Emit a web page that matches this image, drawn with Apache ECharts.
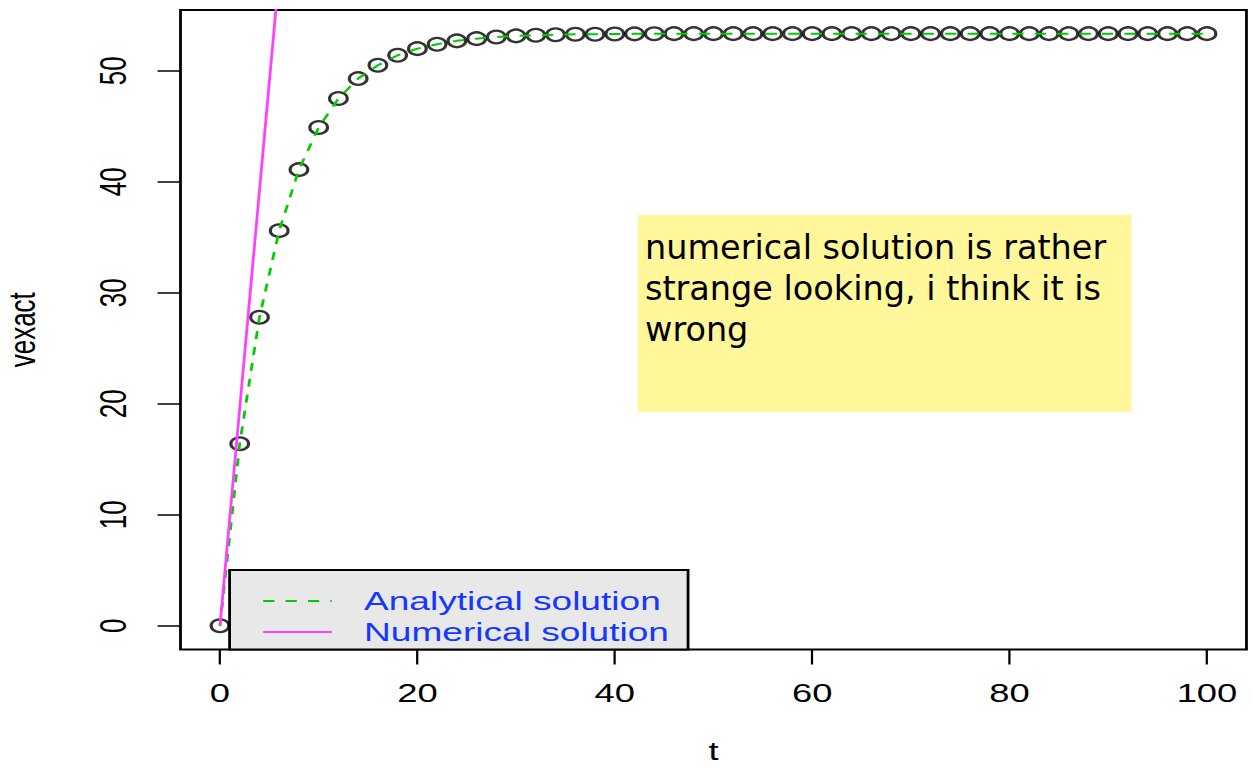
<!DOCTYPE html>
<html><head><meta charset="utf-8">
<script src="https://cdn.jsdelivr.net/npm/echarts@6/dist/echarts.min.js"></script>
<style>
html,body{margin:0;padding:0;background:#fff;overflow:hidden;}
#wrap{width:1253px;height:768px;overflow:hidden;position:relative;background:#fff;}
#chart{width:895px;height:768px;transform:scaleX(1.4);transform-origin:0 0;}
</style></head><body>
<div id="wrap"><div id="chart"></div></div>
<script>
// ---- data ----
const tValues = [0,2,4,6,8,10,12,14,16,18,20,22,24,26,28,30,32,34,36,38,40,42,44,46,48,50,
  52,54,56,58,60,62,64,66,68,70,72,74,76,78,80,82,84,86,88,90,92,94,96,98,100];
const vExact = [0,16.4,27.8,35.6,41.1,44.9,47.5,49.3,50.5,51.4,52.0,52.4,52.7,52.9,53.05,53.15,
  53.2,53.25,53.3,53.3,53.32,53.33,53.34,53.35,53.35,53.35,53.35,53.35,53.35,53.35,53.35,53.35,
  53.35,53.35,53.35,53.35,53.35,53.35,53.35,53.35,53.35,53.35,53.35,53.35,53.35,53.35,53.35,
  53.35,53.35,53.35,53.35];
const tNumeric = [0,2,4,6,8,10];
const vNumeric = [0,19.6,39.2,58.8,78.4,98.0];
const xTickLabels = [0,20,40,60,80,100];
const yTickLabels = [0,10,20,30,40,50];
const legendNames = ['Analytical solution','Numerical solution'];
const xName = 't';
const yName = 'vexact';
const noteText = 'numerical solution is rather\nstrange looking, i think it is\nwrong';

const S = 1.4; // horizontal stretch of the reference picture
const RFONT = 'Liberation Sans, Arial, Helvetica, sans-serif';

const chart = echarts.init(document.getElementById('chart'), null, {renderer: 'svg'});
chart.setOption({
  animation: false,
  backgroundColor: '#fff',
  grid: {show: true, left: 128.93, top: 10, width: 761.4, height: 639.5,
         outerBoundsMode: 'none', containLabel: false,
         borderColor: '#000', borderWidth: 2, backgroundColor: 'transparent'},
  xAxis: {
    type: 'value', min: -4, max: 104,
    axisLine: {show: false, onZero: false},
    splitLine: {show: false},
    axisTick: {show: true, inside: false, length: 15, customValues: xTickLabels, lineStyle: {color: '#000', width: 1.6}},
    axisLabel: {customValues: xTickLabels, fontSize: 26, color: '#000', margin: 30, fontFamily: RFONT},
    name: xName, nameLocation: 'middle', nameGap: 91,
    nameTextStyle: {fontSize: 26, color: '#000', fontFamily: RFONT, lineHeight: 20}
  },
  yAxis: {
    type: 'value', min: -2.134, max: 55.48,
    axisLine: {show: false, onZero: false},
    splitLine: {show: false},
    axisTick: {show: true, inside: false, length: 16.4, customValues: yTickLabels, lineStyle: {color: '#000', width: 1.5}},
    axisLabel: {customValues: yTickLabels, rotate: 90, fontSize: 26, color: '#000', margin: 35, fontFamily: RFONT},
    name: yName, nameLocation: 'middle', nameGap: 100,
    nameTextStyle: {fontSize: 26, color: '#000', fontFamily: RFONT}
  },
  legend: {
    data: legendNames,
    orient: 'vertical',
    left: 164, top: 570,
    padding: [15.5, 13.5, 2, 23],
    itemGap: 0, itemWidth: 49, itemHeight: 14,
    backgroundColor: '#e8e8e8', borderColor: '#000', borderWidth: 2, borderRadius: 0,
    selectedMode: false,
    itemStyle: {opacity: 0},
    textStyle: {color: '#1438ff', fontSize: 26.5, fontFamily: RFONT, lineHeight: 31, padding: [0,0,0,18]}
  },
  series: [
    {
      name: 'vexact', type: 'scatter',
      data: tValues.map((t, i) => [t, vExact[i]]),
      symbol: 'circle', symbolSize: 12.6,
      itemStyle: {color: 'rgba(0,0,0,0)', borderColor: '#000', borderWidth: 2.3},
      z: 2
    },
    {
      name: legendNames[0], type: 'line',
      data: tValues.map((t, i) => [t, vExact[i]]),
      symbol: 'none', showSymbol: false, smooth: false,
      lineStyle: {color: '#00cd00', width: 2, type: [8, 8]},
      itemStyle: {color: '#00cd00'},
      z: 3
    },
    {
      name: legendNames[1], type: 'line',
      data: tNumeric.map((t, i) => [t, vNumeric[i]]),
      symbol: 'none', showSymbol: false,
      lineStyle: {color: '#ff40ff', width: 2},
      itemStyle: {color: '#ff40ff'},
      z: 3
    }
  ],
  graphic: [{
    type: 'group', x: 0, y: 0, scaleX: 1 / S,
    children: [
      {type: 'rect', shape: {x: 638, y: 215, width: 494, height: 197}, style: {fill: '#fff799'}},
      {type: 'text', x: 645, y: 227,
       style: {text: noteText, font: '33.5px "DejaVu Sans"', fill: '#000', lineHeight: 41, verticalAlign: 'top'}}
    ]
  }]
});
</script>
</body></html>
